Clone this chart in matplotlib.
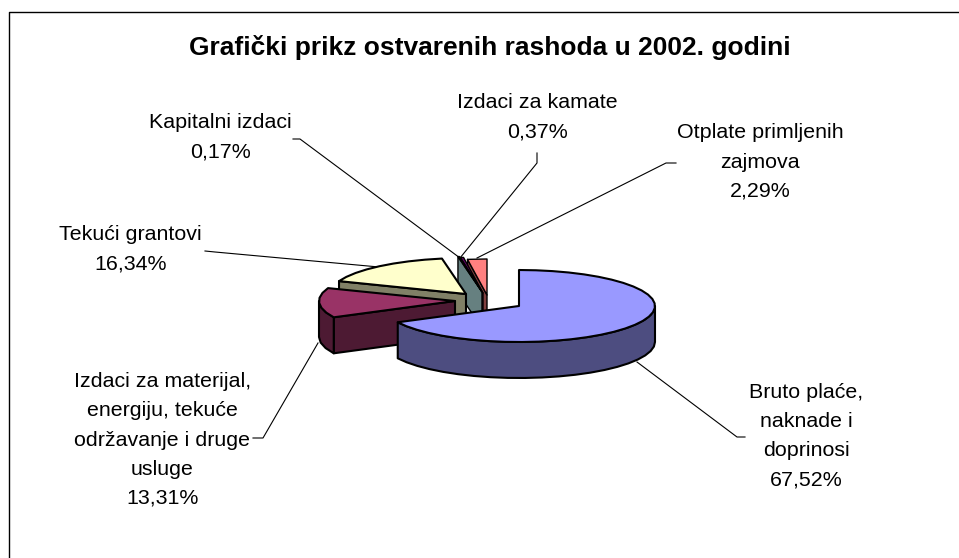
"""
Grafički prikaz rashoda - exploded 3D pie drawn on a pixel-sized axes
"""

import numpy as np
import matplotlib
import matplotlib.pyplot as plt
from matplotlib.patches import Polygon

matplotlib.use("Agg")

plt.rcParams['font.family'] = ['Liberation Sans', 'DejaVu Sans']

W, H = 959, 558

title = "Grafički prikz ostvarenih rashoda u 2002. godini"
labels = [
    "Bruto plaće,\nnaknade i\ndoprinosi\n67,52%",
    "Izdaci za materijal,\nenergiju, tekuće\nodržavanje i druge\nusluge\n13,31%",
    "Tekući grantovi\n16,34%",
    "Kapitalni izdaci\n0,17%",
    "Izdaci za kamate\n0,37%",
    "Otplate primljenih\nzajmova\n2,29%",
]
values = [67.52, 13.31, 16.34, 0.17, 0.37, 2.29]
colors = ["#9999FF", "#993366", "#FFFFCC", "#CCFFFF", "#660066", "#FF8080"]

# layout of the pie, in pixels
CX, CY = 519, 306
RX, RY = 136, 36
DEPTH = 36
offsets = [(0, 0), (-64, -5), (-53, -12), (-37, -14), (-36, -13), (-32, -11)]
# slices painted back to front
paint_order = [5, 4, 3, 2, 1, 0]

label_pos = [(806.5, 436), (162.5, 440), (130.5, 249.5), (220.5, 137.5), (537, 117.5), (760, 162)]
leaders = [
    [(637, 362), (737, 437), (745, 437)],
    [(318, 343), (263, 438), (253, 438)],
    [(379, 267), (215, 252), (205, 251)],
    [(460, 258), (300, 139), (293, 139)],
    [(460, 258), (537, 163), (537, 153)],
    [(477, 258), (666, 163), (676, 163)],
]


def darken(color, f=0.5):
    rgb = np.array(matplotlib.colors.to_rgb(color))
    return tuple(rgb * f)


def rim(a0, a1, cx, cy):
    # angles clockwise from 12 o'clock, coarse steps like the original
    n = max(2, int(abs(a1 - a0) / 7) + 1)
    ang = np.radians(np.linspace(a0, a1, n))
    return np.column_stack([cx + RX * np.sin(ang), cy - RY * np.cos(ang)])


fig = plt.figure(figsize=(W / 100, H / 100), dpi=100)
ax = fig.add_axes([0, 0, 1, 1])
ax.set_xlim(0, W)
ax.set_ylim(H, 0)
ax.axis("off")

# chart frame: only left and top edges fall inside the picture
ax.plot([9, 9, W], [H, 11.5, 11.5], color="black", lw=1.0)

edges = np.cumsum([0] + values) * 3.6
down = np.array([0, DEPTH])
for i in paint_order:
    a0, a1 = edges[i], edges[i + 1]
    cx, cy = CX + offsets[i][0], CY + offsets[i][1]
    apex = np.array([cx, cy])
    arc = rim(a0, a1, cx, cy)
    # thin slices would turn solid black with the full outline
    lw = 1.0 if values[i] < 3 else 1.5
    kw = dict(closed=True, fc=darken(colors[i]), ec="black", lw=lw, joinstyle="round")
    # radial wall facing the viewer
    if a0 > 180:
        p = arc[0]
        ax.add_patch(Polygon([apex, p, p + down, apex + down], **kw))
    # outer wall, front part only (90..270 clockwise from top)
    lo, hi = max(a0, 90), min(a1, 270)
    if hi > lo:
        front = rim(lo, hi, cx, cy)
        ax.add_patch(Polygon(np.vstack([front, (front + down)[::-1]]), **kw))
    # top face
    ax.add_patch(Polygon(np.vstack([apex, arc]), closed=True, fc=colors[i],
                         ec="black", lw=lw, joinstyle="round"))

for pts in leaders:
    xs, ys = zip(*pts)
    ax.plot(xs, ys, color="black", lw=0.8, zorder=0.5)

for text, (x, y) in zip(labels, label_pos):
    ax.text(x, y, text, ha="center", va="center", fontsize=15.4, linespacing=1.68)

ax.text(490, 47, title, ha="center", va="center", fontsize=19.0, fontweight="bold")

fig.savefig("out.png", dpi=100)
plt.close(fig)
